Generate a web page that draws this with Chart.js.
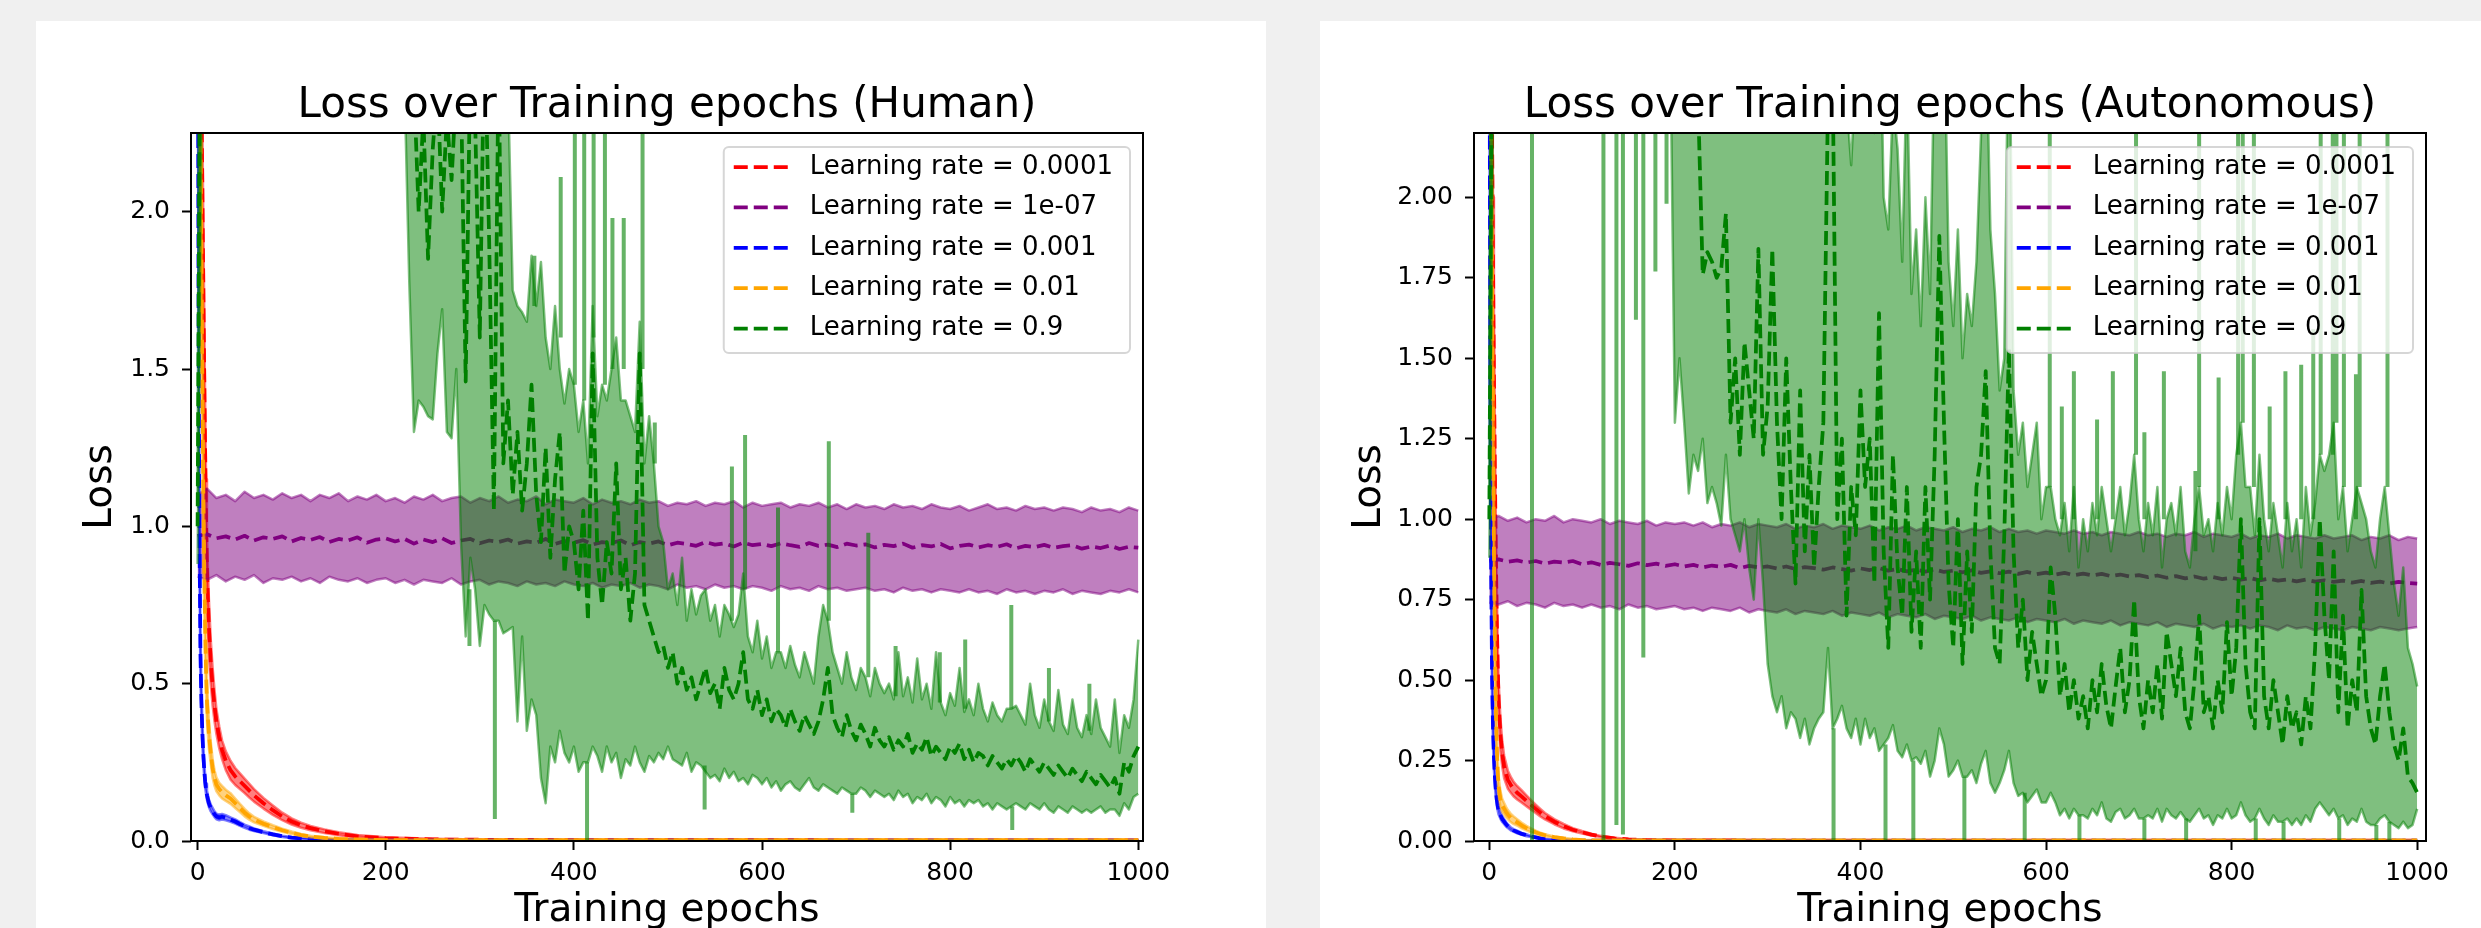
<!DOCTYPE html>
<html><head><meta charset="utf-8">
<script src="https://cdn.jsdelivr.net/npm/chart.js@4.4.1/dist/chart.umd.min.js"></script>
<style>
html,body{margin:0;padding:0;background:#f0f0f0;width:2481px;height:928px;overflow:hidden;}
.card{position:absolute;background:#fff;overflow:hidden;}
#cardL{left:36px;top:21px;width:1230px;height:960px;}
#cardR{left:1320px;top:21px;width:1200px;height:960px;}
canvas{display:block;}
</style></head><body>
<div class="card" id="cardL"><canvas id="human" width="1230" height="960"></canvas></div>
<div class="card" id="cardR"><canvas id="auto" width="1200" height="960"></canvas></div>
<script>
// ---------- labels / ticks ----------
const SERIES_LABELS = ['Learning rate = 0.0001','Learning rate = 1e-07','Learning rate = 0.001','Learning rate = 0.01','Learning rate = 0.9'];
const SERIES_COLORS = ['255,0,0','128,0,128','0,0,255','255,165,0','0,128,0'];
const X_TICKS = [0,200,400,600,800,1000];
const HUMAN_Y_TICKS = [0,0.5,1.0,1.5,2.0];
const HUMAN_Y_LABELS = ['0.0','0.5','1.0','1.5','2.0'];
const AUTO_Y_TICKS = [0,0.25,0.5,0.75,1.0,1.25,1.5,1.75,2.0];
const AUTO_Y_LABELS = ['0.00','0.25','0.50','0.75','1.00','1.25','1.50','1.75','2.00'];

// ---------- epoch grids ----------
const FAST_EPOCHS = [0,1,2,3,4,5,6,7,8,9,10,12,14,16,18,20,23,26,30,35,40,45,50,55,60,70,80,90,100,110,120,135,150,170,200,250,300,400,500,600,700,800,900,1000];
const PURPLE_EPOCHS = [0,10,20,30,40,50,60,70,80,90,100,110,120,130,140,150,160,170,180,190,200,210,220,230,240,250,260,270,280,290,300,310,320,330,340,350,360,370,380,390,400,410,420,430,440,450,460,470,480,490,500,510,520,530,540,550,560,570,580,590,600,610,620,630,640,650,660,670,680,690,700,710,720,730,740,750,760,770,780,790,800,810,820,830,840,850,860,870,880,890,900,910,920,930,940,950,960,970,980,990,1000];
const GREEN_EPOCHS_H = [0,5,100,200,215,
220,225,230,235,240,245,250,255,260,265,
270,275,280,285,290,295,300,305,310,315,
320,325,330,335,340,345,350,355,360,365,
370,375,380,385,390,395,400,405,410,415,
420,425,430,435,440,445,450,455,460,465,
470,475,480,485,490,495,500,
505,510,515,520,525,530,535,540,545,550,
555,560,565,570,575,580,585,590,595,600,
605,610,615,620,625,630,635,640,645,650,
655,660,665,670,675,680,685,690,695,700,
705,710,715,720,725,730,735,740,745,750,
755,760,765,770,775,780,785,790,795,800,
805,810,815,820,825,830,835,840,845,850,
855,860,865,870,875,880,885,890,895,900,
905,910,915,920,925,930,935,940,945,950,
955,960,965,970,975,980,985,990,995,1000];
const GREEN_EPOCHS_A = [0,5,10,15,20,25,30,35,40,45,
50,55,60,65,70,75,80,85,90,95,
100,105,110,115,120,125,130,135,140,145,
150,155,160,165,170,175,180,185,190,195,
200,205,210,215,220,225,230,235,240,245,
250,255,260,265,270,275,280,285,290,295,
300,305,310,315,320,325,330,335,340,345,
350,355,360,365,370,375,380,385,390,395,
400,405,410,415,420,425,430,435,440,445,
450,455,460,465,470,475,480,485,490,495,
500,505,510,515,520,525,530,535,540,545,
550,555,560,565,570,575,580,585,590,595,
600,605,610,615,620,625,630,635,640,645,
650,655,660,665,670,675,680,685,690,695,
700,705,710,715,720,725,730,735,740,745,
750,755,760,765,770,775,780,785,790,795,
800,805,810,815,820,825,830,835,840,845,
850,855,860,865,870,875,880,885,890,895,
900,905,910,915,920,925,930,935,940,945,
950,955,960,965,970,975,980,985,990,995,1000];

// ---------- HUMAN ----------
const H_RED_MEAN = [3.6,3.3,3.0,2.7,2.4,2.1,1.8,1.5,1.25,1.02,0.86,0.68,0.57,0.49,0.43,0.38,0.33,0.29,0.255,0.225,0.205,0.19,0.175,0.16,0.145,0.12,0.098,0.078,0.062,0.05,0.041,0.031,0.023,0.015,0.009,0.005,0.004,0.003,0.003,0.003,0.002,0.002,0.002,0.002];
const H_RED_UP = [3.8,3.5,3.2,2.9,2.6,2.3,2.0,1.7,1.4,1.15,0.97,0.77,0.64,0.55,0.48,0.42,0.365,0.32,0.285,0.255,0.232,0.215,0.198,0.182,0.165,0.137,0.113,0.09,0.072,0.058,0.048,0.037,0.028,0.019,0.012,0.007,0.005,0.004,0.004,0.004,0.003,0.003,0.003,0.003];
const H_RED_LO = [3.4,3.1,2.8,2.5,2.2,1.9,1.6,1.3,1.1,0.89,0.75,0.59,0.5,0.43,0.38,0.34,0.295,0.26,0.225,0.195,0.178,0.165,0.152,0.138,0.125,0.103,0.083,0.066,0.052,0.042,0.034,0.025,0.018,0.011,0.006,0.003,0.003,0.002,0.002,0.002,0.001,0.001,0.001,0.001];
const H_BLUE_MEAN = [3.2,1.7,0.98,0.6,0.45,0.35,0.28,0.23,0.19,0.165,0.145,0.12,0.105,0.095,0.085,0.078,0.075,0.077,0.074,0.068,0.062,0.054,0.047,0.041,0.036,0.028,0.021,0.015,0.011,0.008,0.006,0.004,0.003,0.002,0.001,0.001,0.001,0.001,0.001,0.001,0.001,0.001,0.001,0.001];
const H_BLUE_UP = [3.4,1.9,1.1,0.68,0.5,0.39,0.31,0.255,0.21,0.182,0.16,0.132,0.116,0.105,0.094,0.087,0.084,0.086,0.082,0.075,0.069,0.06,0.052,0.046,0.04,0.031,0.024,0.017,0.013,0.01,0.007,0.005,0.004,0.003,0.002,0.002,0.002,0.002,0.002,0.002,0.002,0.002,0.002,0.002];
const H_BLUE_LO = [3.0,1.5,0.86,0.52,0.4,0.31,0.25,0.205,0.17,0.148,0.13,0.108,0.094,0.085,0.076,0.069,0.066,0.068,0.066,0.061,0.055,0.048,0.042,0.036,0.032,0.025,0.018,0.013,0.009,0.006,0.005,0.003,0.002,0.001,0,0,0,0,0,0,0,0,0,0];
const H_ORANGE_MEAN = [3.5,3.1,2.7,2.3,1.9,1.5,1.15,0.88,0.68,0.54,0.44,0.34,0.28,0.23,0.2,0.18,0.165,0.155,0.145,0.135,0.12,0.105,0.09,0.078,0.068,0.055,0.044,0.034,0.026,0.019,0.014,0.01,0.007,0.005,0.003,0.003,0.003,0.003,0.003,0.003,0.003,0.003,0.003,0.003];
const H_ORANGE_UP = [3.7,3.3,2.9,2.5,2.1,1.7,1.3,1.0,0.77,0.61,0.5,0.385,0.315,0.26,0.225,0.202,0.185,0.175,0.163,0.152,0.135,0.118,0.102,0.088,0.077,0.062,0.05,0.039,0.03,0.022,0.017,0.012,0.009,0.006,0.004,0.004,0.004,0.004,0.004,0.004,0.004,0.004,0.004,0.004];
const H_ORANGE_LO = [3.3,2.9,2.5,2.1,1.7,1.3,1.0,0.76,0.59,0.47,0.38,0.295,0.245,0.2,0.175,0.158,0.145,0.135,0.127,0.118,0.105,0.092,0.078,0.068,0.059,0.048,0.038,0.029,0.022,0.016,0.011,0.008,0.005,0.004,0.002,0.002,0.002,0.002,0.002,0.002,0.002,0.002,0.002,0.002];
const H_PURPLE_MEAN = [0.97,0.975,0.962,0.968,0.958,0.97,0.955,0.965,0.96,0.968,0.952,
0.963,0.957,0.966,0.95,0.96,0.955,0.965,0.948,0.958,0.962,
0.952,0.96,0.945,0.958,0.95,0.962,0.947,0.955,0.96,0.946,
0.955,0.95,0.958,0.945,0.952,0.948,0.96,0.944,0.953,0.948,
0.956,0.942,0.95,0.947,0.955,0.94,0.95,0.945,0.952,0.94,
0.948,0.944,0.938,0.95,0.942,0.946,0.936,0.948,0.94,0.944,
0.937,0.946,0.94,0.935,0.947,0.938,0.942,0.934,0.945,0.939,
0.943,0.933,0.941,0.937,0.945,0.932,0.94,0.936,0.944,0.93,
0.938,0.942,0.933,0.94,0.935,0.943,0.93,0.938,0.934,0.941,
0.932,0.937,0.94,0.929,0.936,0.931,0.939,0.928,0.935,0.932];
const H_PURPLE_UP = [1.1,1.12,1.09,1.1,1.08,1.11,1.09,1.1,1.085,1.105,1.09,
1.1,1.08,1.1,1.09,1.105,1.08,1.095,1.085,1.1,1.08,
1.09,1.075,1.095,1.085,1.1,1.08,1.09,1.095,1.075,1.09,
1.08,1.095,1.075,1.085,1.08,1.095,1.07,1.085,1.08,1.075,
1.09,1.07,1.085,1.075,1.08,1.07,1.085,1.075,1.08,1.065,
1.075,1.07,1.08,1.065,1.075,1.07,1.08,1.06,1.075,1.065,
1.07,1.075,1.06,1.07,1.065,1.075,1.06,1.07,1.055,1.07,
1.06,1.065,1.055,1.07,1.06,1.065,1.055,1.07,1.06,1.055,
1.065,1.05,1.06,1.07,1.055,1.06,1.05,1.065,1.055,1.06,
1.05,1.06,1.055,1.045,1.06,1.05,1.055,1.045,1.06,1.05];
const H_PURPLE_LO = [0.84,0.83,0.845,0.825,0.84,0.83,0.845,0.82,0.835,0.83,0.84,
0.825,0.835,0.82,0.84,0.83,0.825,0.835,0.82,0.83,0.835,
0.82,0.83,0.815,0.83,0.825,0.82,0.835,0.815,0.825,0.83,
0.815,0.825,0.82,0.81,0.825,0.815,0.82,0.81,0.825,0.815,
0.81,0.82,0.805,0.815,0.81,0.82,0.805,0.815,0.81,0.8,
0.815,0.805,0.81,0.8,0.815,0.805,0.81,0.8,0.81,0.805,
0.795,0.81,0.8,0.805,0.795,0.81,0.8,0.805,0.795,0.8,
0.805,0.795,0.8,0.79,0.805,0.795,0.8,0.79,0.8,0.795,
0.79,0.8,0.79,0.795,0.785,0.8,0.79,0.795,0.785,0.795,
0.79,0.8,0.785,0.795,0.79,0.785,0.795,0.79,0.8,0.79];
const H_GREEN_MEAN = [1.0,4.0,3.6,3.4,3.2,
3.0,2.6,2.4,2.0,2.3,1.85,2.2,2.4,2.0,2.3,
2.1,2.4,2.4,1.46,2.5,2.3,1.6,2.6,1.9,1.05,
2.5,1.2,1.4,1.1,1.3,1.05,1.2,1.45,1.1,0.95,
1.25,0.9,1.15,1.3,0.85,1.0,0.95,0.8,1.05,0.7,
1.55,0.9,0.75,0.95,0.85,1.2,0.8,0.9,0.7,0.85,
1.55,0.75,0.7,0.65,0.6,0.62,0.55,
0.6,0.5,0.55,0.48,0.52,0.45,0.5,0.55,0.47,0.5,
0.42,0.55,0.48,0.45,0.5,0.6,0.45,0.42,0.48,0.4,
0.45,0.38,0.42,0.4,0.36,0.42,0.38,0.35,0.4,0.37,
0.34,0.38,0.45,0.55,0.4,0.36,0.33,0.4,0.35,0.32,
0.37,0.34,0.3,0.36,0.32,0.3,0.33,0.29,0.32,0.3,
0.34,0.28,0.31,0.29,0.33,0.27,0.3,0.28,0.26,0.3,
0.28,0.31,0.26,0.29,0.25,0.28,0.27,0.24,0.27,0.25,
0.23,0.26,0.24,0.27,0.25,0.22,0.26,0.24,0.22,0.25,
0.23,0.21,0.24,0.22,0.2,0.23,0.21,0.19,0.22,0.2,
0.18,0.21,0.19,0.17,0.2,0.15,0.25,0.22,0.27,0.3];
const H_GREEN_UP = [1.1,6,5,5,4.8,
4.5,4.2,4.0,3.8,3.9,3.6,3.8,4.0,3.5,3.6,
3.5,3.7,3.6,3.0,3.6,3.4,3.2,3.5,3.6,3.0,
3.5,2.6,2.4,1.75,1.7,1.68,1.65,1.86,1.7,1.84,
1.6,1.5,1.7,1.5,1.39,1.5,1.45,1.3,1.4,1.2,
1.7,1.35,1.45,1.4,1.5,1.6,1.4,1.4,1.35,1.3,
1.65,1.2,1.35,1.2,1.0,0.95,0.8,
0.85,0.75,0.9,0.7,0.8,0.72,0.78,0.8,0.7,0.75,
0.65,0.75,0.72,0.68,0.72,0.85,0.65,0.6,0.7,0.58,
0.65,0.55,0.6,0.6,0.55,0.62,0.56,0.52,0.6,0.55,
0.5,0.65,0.75,0.7,0.6,0.55,0.5,0.6,0.52,0.48,
0.55,0.52,0.46,0.55,0.5,0.47,0.5,0.45,0.6,0.46,
0.52,0.44,0.58,0.45,0.5,0.42,0.6,0.44,0.4,0.47,
0.43,0.55,0.41,0.45,0.4,0.5,0.42,0.38,0.44,0.4,
0.38,0.42,0.42,0.43,0.4,0.37,0.5,0.4,0.36,0.45,
0.38,0.35,0.48,0.37,0.34,0.45,0.36,0.33,0.4,0.34,
0.45,0.36,0.33,0.3,0.45,0.28,0.4,0.36,0.45,0.64];
const H_GREEN_LO = [0.88,2.6,2.8,2.7,2.5,
2.4,1.78,1.3,1.4,1.38,1.35,1.34,1.55,1.69,1.3,
1.28,1.5,0.95,0.65,0.9,0.8,0.62,0.75,0.72,0.7,
0.7,0.66,0.67,0.68,0.38,0.65,0.35,0.45,0.4,0.2,
0.12,0.3,0.25,0.35,0.28,0.25,0.3,0.22,0.25,0.25,
0.3,0.27,0.22,0.3,0.25,0.28,0.2,0.26,0.24,0.3,
0.25,0.22,0.27,0.25,0.28,0.26,0.3,
0.26,0.25,0.24,0.28,0.22,0.25,0.24,0.22,0.2,0.21,
0.19,0.23,0.2,0.22,0.19,0.2,0.18,0.21,0.2,0.18,
0.2,0.17,0.19,0.16,0.18,0.19,0.17,0.16,0.18,0.2,
0.17,0.16,0.18,0.17,0.16,0.15,0.17,0.16,0.15,0.15,
0.17,0.16,0.14,0.16,0.15,0.14,0.15,0.13,0.16,0.14,
0.15,0.12,0.14,0.13,0.15,0.12,0.14,0.13,0.11,0.14,
0.12,0.13,0.11,0.13,0.12,0.13,0.11,0.12,0.1,0.12,
0.11,0.1,0.11,0.12,0.11,0.1,0.12,0.11,0.1,0.12,
0.1,0.09,0.11,0.1,0.09,0.11,0.1,0.09,0.1,0.09,
0.1,0.11,0.09,0.1,0.1,0.08,0.12,0.1,0.14,0.15];
// single-epoch spikes of the green band (epoch, from, to)
const H_SPIKE_X = [289,316,358,386,401,411,414,421,433,441,453,473,486,539,568,582,617,671,696,713,742,789,816,865,866,905,948];
const H_SPIKE_FROM = [0.8,0.7,1.7,1.6,1.45,1.4,0.25,1.6,1.45,1.5,1.5,1.5,1.2,0.24,0.7,0.8,0.6,0.7,0.15,0.52,0.46,0.44,0.42,0.42,0.11,0.38,0.35];
const H_SPIKE_TO = [0.62,0.07,1.86,2.11,2.3,2.3,0.0,2.3,2.3,1.98,1.98,2.3,1.33,0.1,1.19,1.29,1.06,1.27,0.09,0.98,0.62,0.6,0.64,0.75,0.035,0.55,0.5];

// ---------- AUTONOMOUS ----------
const A_RED_MEAN = [3.5,3.0,2.6,2.2,1.8,1.45,1.15,0.9,0.7,0.55,0.44,0.33,0.27,0.23,0.21,0.19,0.175,0.162,0.15,0.138,0.125,0.112,0.1,0.088,0.077,0.06,0.046,0.035,0.027,0.02,0.014,0.008,0.005,0.003,0.002,0.002,0.001,0.001,0.001,0.001,0.001,0.001,0.001,0.001];
const A_RED_UP = [3.7,3.2,2.8,2.4,2.0,1.6,1.28,1.01,0.79,0.625,0.5,0.38,0.31,0.265,0.242,0.218,0.2,0.185,0.171,0.157,0.142,0.127,0.113,0.1,0.087,0.068,0.053,0.04,0.031,0.023,0.016,0.01,0.006,0.004,0.003,0.003,0.002,0.002,0.002,0.002,0.002,0.002,0.002,0.002];
const A_RED_LO = [3.3,2.8,2.4,2.0,1.6,1.3,1.02,0.79,0.61,0.475,0.38,0.28,0.23,0.195,0.178,0.162,0.15,0.139,0.129,0.119,0.108,0.097,0.087,0.076,0.067,0.052,0.039,0.03,0.023,0.017,0.012,0.006,0.004,0.002,0.001,0.001,0,0,0,0,0,0,0,0];
const A_BLUE_MEAN = [3.0,1.5,0.85,0.5,0.35,0.26,0.2,0.16,0.13,0.11,0.095,0.08,0.068,0.06,0.052,0.046,0.038,0.033,0.028,0.022,0.018,0.014,0.011,0.008,0.006,0.004,0.003,0.002,0.001,0.001,0.001,0.001,0.001,0.001,0.001,0.001,0.001,0.001,0.001,0.001,0.001,0.001,0.001,0.001];
const A_BLUE_UP = [3.2,1.7,0.96,0.57,0.4,0.3,0.23,0.183,0.148,0.125,0.108,0.091,0.077,0.068,0.059,0.052,0.043,0.037,0.032,0.025,0.021,0.016,0.013,0.01,0.007,0.005,0.004,0.003,0.002,0.002,0.002,0.002,0.002,0.002,0.002,0.002,0.002,0.002,0.002,0.002,0.002,0.002,0.002,0.002];
const A_BLUE_LO = [2.8,1.3,0.74,0.43,0.3,0.22,0.17,0.137,0.112,0.095,0.082,0.069,0.059,0.052,0.045,0.04,0.033,0.029,0.024,0.019,0.015,0.012,0.009,0.006,0.005,0.003,0.002,0.001,0,0,0,0,0,0,0,0,0,0,0,0,0,0,0,0];
const A_ORANGE_MEAN = [3.4,2.8,2.2,1.7,1.25,0.9,0.62,0.42,0.3,0.22,0.17,0.13,0.11,0.1,0.09,0.082,0.072,0.065,0.058,0.048,0.04,0.033,0.027,0.022,0.018,0.012,0.008,0.005,0.003,0.002,0.002,0.002,0.002,0.002,0.002,0.002,0.002,0.002,0.002,0.002,0.002,0.002,0.002,0.002];
const A_ORANGE_UP = [3.6,3.0,2.4,1.9,1.4,1.02,0.71,0.49,0.35,0.26,0.2,0.155,0.13,0.118,0.106,0.096,0.085,0.077,0.068,0.057,0.047,0.039,0.032,0.026,0.021,0.014,0.01,0.006,0.004,0.003,0.003,0.003,0.003,0.003,0.003,0.003,0.003,0.003,0.003,0.003,0.003,0.003,0.003,0.003];
const A_ORANGE_LO = [3.2,2.6,2.0,1.5,1.1,0.78,0.53,0.35,0.25,0.18,0.14,0.105,0.09,0.082,0.074,0.068,0.059,0.053,0.048,0.039,0.033,0.027,0.022,0.018,0.015,0.01,0.006,0.004,0.002,0.001,0.001,0.001,0.001,0.001,0.001,0.001,0.001,0.001,0.001,0.001,0.001,0.001,0.001,0.001];
const A_PURPLE_MEAN = [0.87,0.875,0.868,0.872,0.865,0.87,0.862,0.868,0.865,0.87,0.86,
0.866,0.858,0.864,0.86,0.855,0.863,0.857,0.862,0.855,0.86,
0.853,0.858,0.85,0.856,0.852,0.858,0.848,0.855,0.85,0.853,
0.847,0.853,0.845,0.851,0.848,0.843,0.85,0.845,0.84,0.847,
0.842,0.848,0.84,0.845,0.838,0.843,0.837,0.844,0.836,0.84,
0.835,0.841,0.833,0.838,0.832,0.837,0.83,0.836,0.829,0.834,
0.828,0.833,0.826,0.831,0.825,0.83,0.823,0.828,0.822,0.826,
0.82,0.825,0.818,0.823,0.816,0.822,0.815,0.82,0.814,0.818,
0.812,0.817,0.81,0.815,0.809,0.813,0.807,0.812,0.806,0.81,
0.805,0.809,0.803,0.808,0.802,0.806,0.8,0.805,0.802,0.8];
const A_PURPLE_UP = [1.0,1.01,0.995,1.005,0.99,1.0,0.995,1.01,0.99,1.0,0.995,
0.99,1.0,0.985,0.995,0.99,0.985,0.995,0.98,0.99,0.985,
0.99,0.98,0.99,0.975,0.985,0.98,0.99,0.975,0.985,0.98,
0.975,0.985,0.97,0.98,0.975,0.985,0.97,0.98,0.975,0.97,
0.98,0.965,0.975,0.97,0.98,0.965,0.975,0.97,0.965,0.975,
0.96,0.97,0.965,0.975,0.96,0.97,0.96,0.965,0.955,0.965,
0.96,0.955,0.965,0.955,0.96,0.95,0.96,0.955,0.95,0.96,
0.95,0.955,0.945,0.955,0.95,0.96,0.945,0.955,0.95,0.945,
0.955,0.94,0.95,0.945,0.955,0.94,0.95,0.945,0.94,0.95,
0.94,0.945,0.95,0.935,0.945,0.94,0.95,0.935,0.945,0.94];
const A_PURPLE_LO = [0.74,0.735,0.745,0.73,0.74,0.735,0.725,0.74,0.73,0.735,0.725,
0.735,0.725,0.73,0.72,0.735,0.725,0.73,0.72,0.725,0.73,
0.72,0.725,0.715,0.725,0.72,0.715,0.725,0.71,0.72,0.715,
0.71,0.72,0.705,0.715,0.71,0.705,0.715,0.7,0.71,0.705,
0.7,0.71,0.695,0.705,0.7,0.695,0.705,0.69,0.7,0.695,
0.69,0.7,0.685,0.695,0.69,0.685,0.695,0.68,0.69,0.685,
0.68,0.69,0.675,0.685,0.68,0.675,0.685,0.67,0.68,0.675,
0.67,0.68,0.665,0.675,0.67,0.665,0.675,0.66,0.67,0.665,
0.67,0.66,0.67,0.665,0.655,0.67,0.66,0.665,0.655,0.665,
0.66,0.655,0.665,0.66,0.655,0.665,0.66,0.655,0.66,0.665];
const A_GREEN_MEAN = [1.0,3.8,3.6,3.5,3.5,3.6,3.5,3.4,3.5,3.6,
3.5,3.4,3.5,3.6,3.5,3.4,3.5,3.5,3.6,3.5,
3.4,3.5,3.5,3.6,3.5,3.4,3.5,3.5,3.4,3.5,
3.5,3.4,3.5,3.5,3.4,3.5,3.4,3.5,3.3,3.2,
3.0,2.9,2.7,2.6,2.5,2.3,1.76,1.83,1.8,1.75,
1.78,1.95,1.3,1.5,1.2,1.55,1.4,1.25,1.84,1.2,
1.35,1.84,1.3,1.0,1.5,1.1,0.8,1.4,0.9,1.2,
0.85,1.1,1.3,2.3,2.4,1.0,1.25,0.7,1.1,0.95,
1.4,1.1,1.25,0.8,1.64,0.9,0.6,1.2,0.85,0.7,
1.1,0.65,0.9,0.6,1.1,0.75,1.2,1.88,1.3,0.8,
0.6,1.0,0.55,0.9,0.65,1.1,1.2,1.46,0.9,0.6,
0.55,0.95,1.53,0.9,0.6,0.75,0.5,0.65,0.55,0.45,
0.5,0.85,0.7,0.45,0.55,0.4,0.5,0.38,0.45,0.35,
0.5,0.4,0.55,0.42,0.35,0.48,0.6,0.4,0.5,0.75,
0.45,0.35,0.5,0.4,0.55,0.38,0.65,0.55,0.45,0.6,
0.4,0.35,0.5,0.7,0.4,0.45,0.35,0.5,0.4,0.68,
0.45,0.6,1.0,0.55,0.4,0.35,1.0,0.45,0.35,0.5,
0.4,0.3,0.45,0.35,0.4,0.3,0.45,0.35,0.6,1.0,
0.7,0.5,0.9,0.4,0.7,0.35,0.5,0.4,0.78,0.45,
0.35,0.3,0.45,0.55,0.4,0.3,0.25,0.35,0.2,0.18,
0.15];
const A_GREEN_UP = [1.1,6,5,5,5,5,5,5,5,5,
5,5,5,5,5,5,5,5,5,5,
5,5,5,5,5,5,5,5,5,5,
5,5,5,5,5,5,5,5,5,5,
5,4.8,4.5,4.6,4.4,4.2,4.0,3.9,3.8,3.7,
3.6,3.7,3.5,3.6,3.2,3.3,3.4,3.1,3.6,3.2,
3.0,3.4,3.1,2.9,3.0,2.6,2.5,2.4,2.6,2.3,
2.4,2.5,2.6,3.5,3.8,2.4,2.5,2.3,2.1,2.4,
2.6,2.5,2.3,2.2,2.8,2.0,1.9,2.3,2.15,1.8,
2.4,1.7,1.9,1.6,2.0,1.7,2.5,3.2,2.6,1.8,
1.6,1.9,1.5,1.7,1.6,1.8,2.2,2.6,1.9,1.7,
1.4,1.5,2.7,1.4,1.2,1.3,1.1,1.2,1.3,1.0,
1.1,1.1,1.0,0.95,1.05,0.9,1.1,0.85,1.0,0.9,
1.05,0.95,1.1,1.0,0.9,1.0,1.1,0.95,1.05,1.2,
1.0,0.9,1.05,0.95,1.1,0.85,1.0,1.05,0.95,1.1,
0.9,0.85,1.0,1.1,0.95,1.0,0.9,1.05,0.95,1.1,
1.0,1.2,1.3,1.1,1.1,0.95,1.2,1.0,0.9,1.05,
0.95,0.85,1.05,0.9,1.0,0.85,1.1,0.95,1.05,1.2,
1.15,1.2,1.3,1.0,1.1,0.9,1.0,1.1,1.05,1.0,
0.9,0.85,1.0,1.1,0.95,0.8,0.7,0.85,0.6,0.55,
0.48];
const A_GREEN_LO = [0.88,2.6,2.8,2.8,2.8,2.8,2.8,2.8,2.8,2.8,
2.8,2.8,2.8,2.8,2.8,2.8,2.8,2.8,2.8,2.8,
2.8,2.8,2.8,2.8,2.8,2.8,2.8,2.8,2.8,2.8,
2.8,2.8,2.8,2.8,2.8,2.5,2.8,2.6,2.8,2.5,
1.3,1.5,1.3,1.08,1.2,1.15,1.25,1.05,1.1,1.05,
0.98,1.2,1.0,0.95,0.9,1.0,0.85,0.75,1.0,0.8,
0.55,0.45,0.4,0.45,0.35,0.4,0.38,0.32,0.38,0.3,
0.35,0.38,0.4,0.6,0.35,0.38,0.42,0.35,0.32,0.38,
0.3,0.38,0.32,0.35,0.28,0.3,0.32,0.36,0.28,0.26,
0.3,0.25,0.26,0.24,0.28,0.2,0.25,0.35,0.3,0.2,
0.22,0.25,0.2,0.2,0.22,0.18,0.24,0.28,0.18,0.15,
0.18,0.22,0.28,0.18,0.14,0.15,0.12,0.14,0.16,0.12,
0.12,0.15,0.12,0.08,0.1,0.07,0.1,0.08,0.08,0.07,
0.1,0.08,0.12,0.07,0.06,0.09,0.1,0.07,0.08,0.1,
0.07,0.07,0.08,0.07,0.1,0.06,0.1,0.08,0.07,0.09,
0.07,0.06,0.08,0.1,0.07,0.08,0.05,0.08,0.07,0.1,
0.07,0.08,0.12,0.08,0.06,0.07,0.1,0.07,0.05,0.08,
0.06,0.06,0.07,0.05,0.07,0.05,0.08,0.06,0.1,0.12,
0.1,0.08,0.1,0.07,0.08,0.05,0.07,0.06,0.1,0.06,
0.05,0.05,0.07,0.08,0.06,0.05,0.04,0.06,0.04,0.05,
0.1];
const A_SPIKE_X = [46,123,137,144,158,166,179,191,371,427,457,512,577,604,617,630,636,655,672,697,706,706,727,751,761,765,786,807,812,824,826,841,856,858,875,888,896,909,913,916,921,934,938,956,968,970];
const A_SPIKE_FROM = [2.3,2.3,2.3,2.3,2.3,2.3,2.3,2.3,0.35,0.3,0.25,0.2,0.15,1.1,1.0,1.0,0.08,1.0,1.0,1.2,1.0,0.07,1.0,0.07,0.9,1.1,1.0,1.2,1.3,1.1,0.07,1.0,0.06,1.0,1.0,1.0,1.2,1.2,1.3,0.07,1.1,1.0,1.1,0.05,1.1,0.06];
const A_SPIKE_TO = [0.0,0.0,0.05,0.02,1.62,0.57,1.77,1.98,0.0,0.0,0.0,0.0,0.0,2.3,1.35,1.46,0.0,1.31,1.46,2.3,1.27,0.0,1.46,0.0,1.15,2.3,1.44,2.3,2.3,2.3,0.0,1.35,0.0,1.46,1.48,1.59,2.3,2.3,2.3,0.0,2.3,1.45,2.3,0.0,2.3,0.0];

// ---------- helpers ----------
const FONT = "'DejaVu Sans', sans-serif";
Chart.defaults.font.family = FONT;
Chart.defaults.color = '#000';

function pts(xs, ys) { return xs.map((x, i) => ({x: x, y: ys[i]})); }
function spikePts(xs, from, to) {
  const out = [];
  xs.forEach((x, i) => { out.push({x: x, y: from[i]}, {x: x, y: to[i]}, {x: x, y: null}); });
  return out;
}

function buildDatasets(series) {
  const list = [];
  series.forEach(s => {
    list.push({label: s.label, data: pts(s.epochs, s.mean), borderColor: 'rgb(' + s.color + ')',
      borderWidth: 3.75, borderDash: [14, 6], fill: false, pointRadius: 0, borderJoinStyle: 'round', isMean: true});
    list.push({label: '', data: pts(s.epochs, s.up), borderColor: 'rgba(' + s.color + ',0.5)',
      backgroundColor: 'rgba(' + s.color + ',0.5)', borderWidth: 2.5, fill: '+1', pointRadius: 0, borderJoinStyle: 'round'});
    list.push({label: '', data: pts(s.epochs, s.lo), borderColor: 'rgba(' + s.color + ',0.5)',
      borderWidth: 2.5, fill: false, pointRadius: 0, borderJoinStyle: 'round'});
    if (s.spikeX) {
      list.push({label: '', data: spikePts(s.spikeX, s.spikeFrom, s.spikeTo), borderColor: 'rgba(' + s.color + ',0.6)',
        borderWidth: 4, fill: false, pointRadius: 0, spanGaps: false});
    }
  });
  const n = list.length;
  list.forEach((d, i) => { d.order = n - i; });
  return list;
}

const framePlugin = {
  id: 'frame',
  afterDatasetsDraw(chart) {
    const {ctx, chartArea: a} = chart;
    ctx.save();
    ctx.strokeStyle = '#000';
    ctx.lineWidth = 2;
    ctx.strokeRect(a.left, a.top, a.right - a.left, a.bottom - a.top);
    ctx.restore();
  }
};

const legendPlugin = {
  id: 'mplLegend',
  afterDraw(chart) {
    const {ctx, chartArea: a} = chart;
    const items = chart.data.datasets.filter(d => d.isMean);
    ctx.save();
    ctx.font = "26px " + FONT;
    let maxW = 0;
    items.forEach(it => { maxW = Math.max(maxW, ctx.measureText(it.label).width); });
    const w = 86 + maxW + 17, h = 206;
    const x = a.right - 13 - w, y = a.top + 14;
    ctx.beginPath();
    ctx.roundRect(x, y, w, h, 5);
    ctx.fillStyle = 'rgba(255,255,255,0.8)';
    ctx.fill();
    ctx.lineWidth = 2;
    ctx.strokeStyle = 'rgba(204,204,204,0.8)';
    ctx.stroke();
    items.forEach((it, i) => {
      const cy = y + 20 + i * 40.4;
      ctx.setLineDash([14, 6]);
      ctx.lineWidth = 3.75;
      ctx.strokeStyle = it.borderColor;
      ctx.beginPath(); ctx.moveTo(x + 10, cy); ctx.lineTo(x + 64, cy); ctx.stroke();
      ctx.setLineDash([]);
      ctx.fillStyle = '#000';
      ctx.textBaseline = 'middle';
      ctx.textAlign = 'left';
      ctx.fillText(it.label, x + 86, cy);
    });
    ctx.restore();
  }
};

function makeChart(id, cfg) {
  return new Chart(document.getElementById(id), {
    type: 'line',
    data: {datasets: buildDatasets(cfg.series)},
    options: {
      responsive: false, animation: false, devicePixelRatio: 1,
      layout: {padding: {left: 20, right: cfg.padRight, top: 20, bottom: 0}},
      plugins: {
        legend: {display: false}, tooltip: {enabled: false},
        title: {display: true, text: cfg.title, fullSize: false, color: '#000',
          font: {size: 42, weight: 'normal', family: FONT, lineHeight: 1.2},
          padding: {top: 40.3, bottom: 1.3}}
      },
      scales: {
        x: {type: 'linear', min: cfg.xMin, max: cfg.xMax,
          afterBuildTicks: sc => { sc.ticks = X_TICKS.map(v => ({value: v})); },
          afterFit: sc => { sc.height = 140; },
          ticks: {autoSkip: false, maxRotation: 0, padding: 8, color: '#000',
            font: {size: 25, family: FONT, lineHeight: 1.2},
            callback: v => String(v)},
          grid: {display: true, drawOnChartArea: false, drawTicks: true, tickLength: 9, tickWidth: 2, tickColor: '#000'},
          border: {display: false},
          title: {display: true, text: 'Training epochs', color: '#000',
            font: {size: 39, family: FONT, lineHeight: 1.2}, padding: {top: 0, bottom: 46.7}}
        },
        y: {type: 'linear', min: 0, max: cfg.yMax,
          afterBuildTicks: sc => { sc.ticks = cfg.yTicks.map(v => ({value: v})); },
          afterFit: sc => { sc.width = cfg.yWidth; },
          ticks: {autoSkip: false, padding: 12, color: '#000',
            font: {size: 25, family: FONT, lineHeight: 1.2},
            callback: (v, i) => cfg.yLabels[i]},
          grid: {display: true, drawOnChartArea: false, drawTicks: true, tickLength: 9, tickWidth: 2, tickColor: '#000'},
          border: {display: false},
          title: {display: true, text: 'Loss', color: '#000',
            font: {size: 39, family: FONT, lineHeight: 1.2}, padding: {top: cfg.lossPad, bottom: 0}}
        }
      }
    },
    plugins: [framePlugin, legendPlugin]
  });
}

makeChart('human', {
  title: 'Loss over Training epochs (Human)',
  padRight: 123, yWidth: 135, lossPad: 21.6,
  xMin: -7, xMax: 1005, yMax: 2.25,
  yTicks: HUMAN_Y_TICKS, yLabels: HUMAN_Y_LABELS,
  series: [
    {label: SERIES_LABELS[0], color: SERIES_COLORS[0], epochs: FAST_EPOCHS, mean: H_RED_MEAN, up: H_RED_UP, lo: H_RED_LO},
    {label: SERIES_LABELS[1], color: SERIES_COLORS[1], epochs: PURPLE_EPOCHS, mean: H_PURPLE_MEAN, up: H_PURPLE_UP, lo: H_PURPLE_LO},
    {label: SERIES_LABELS[2], color: SERIES_COLORS[2], epochs: FAST_EPOCHS, mean: H_BLUE_MEAN, up: H_BLUE_UP, lo: H_BLUE_LO},
    {label: SERIES_LABELS[3], color: SERIES_COLORS[3], epochs: FAST_EPOCHS, mean: H_ORANGE_MEAN, up: H_ORANGE_UP, lo: H_ORANGE_LO},
    {label: SERIES_LABELS[4], color: SERIES_COLORS[4], epochs: GREEN_EPOCHS_H, mean: H_GREEN_MEAN, up: H_GREEN_UP, lo: H_GREEN_LO,
      spikeX: H_SPIKE_X, spikeFrom: H_SPIKE_FROM, spikeTo: H_SPIKE_TO}
  ]
});

makeChart('auto', {
  title: 'Loss over Training epochs (Autonomous)',
  padRight: 94, yWidth: 134, lossPad: 6.6,
  xMin: -16.5, xMax: 1009.5, yMax: 2.2,
  yTicks: AUTO_Y_TICKS, yLabels: AUTO_Y_LABELS,
  series: [
    {label: SERIES_LABELS[0], color: SERIES_COLORS[0], epochs: FAST_EPOCHS, mean: A_RED_MEAN, up: A_RED_UP, lo: A_RED_LO},
    {label: SERIES_LABELS[1], color: SERIES_COLORS[1], epochs: PURPLE_EPOCHS, mean: A_PURPLE_MEAN, up: A_PURPLE_UP, lo: A_PURPLE_LO},
    {label: SERIES_LABELS[2], color: SERIES_COLORS[2], epochs: FAST_EPOCHS, mean: A_BLUE_MEAN, up: A_BLUE_UP, lo: A_BLUE_LO},
    {label: SERIES_LABELS[3], color: SERIES_COLORS[3], epochs: FAST_EPOCHS, mean: A_ORANGE_MEAN, up: A_ORANGE_UP, lo: A_ORANGE_LO},
    {label: SERIES_LABELS[4], color: SERIES_COLORS[4], epochs: GREEN_EPOCHS_A, mean: A_GREEN_MEAN, up: A_GREEN_UP, lo: A_GREEN_LO,
      spikeX: A_SPIKE_X, spikeFrom: A_SPIKE_FROM, spikeTo: A_SPIKE_TO}
  ]
});
</script>
</body></html>
